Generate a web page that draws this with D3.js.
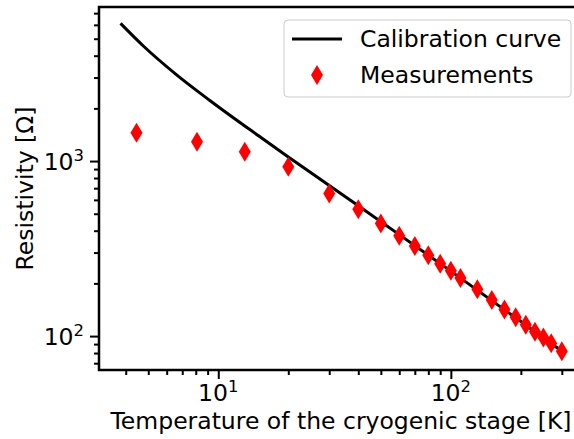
<!DOCTYPE html>
<html>
<head>
<meta charset="utf-8">
<script src="https://cdn.jsdelivr.net/npm/d3@7"></script>
<style>
  html, body { margin: 0; padding: 0; background: #fff; }
  svg { display: block; font-family: "DejaVu Sans", sans-serif; }
</style>
</head>
<body>
<svg id="chart"></svg>
<script>
// calibration curve
const curveT = [3.8, 4.8, 6.6, 9.2, 15, 20, 30, 40, 60, 100, 200, 300];
const curveR = [6120, 4500, 3120, 2220, 1385, 1055, 725, 555, 380, 235, 121, 82];

// measured points
const measT = [4.45, 8.1, 13, 20, 30, 40, 50, 60, 70, 80, 90, 100, 110, 130, 150, 170, 190, 210, 230, 250, 270, 300];
const measR = [1451, 1289, 1130, 928, 653, 530, 440, 374, 327, 290, 259, 236, 215, 185, 161, 142, 128, 116, 106, 98, 91, 82];

const xMajor = [10, 100];
const xMinor = [4, 5, 6, 7, 8, 9, 20, 30, 40, 50, 60, 70, 80, 90, 200, 300];
const yMajor = [100, 1000];
const yMinor = [70, 80, 90, 200, 300, 400, 500, 600, 700, 800, 900, 2000, 3000, 4000, 5000, 6000, 7000];

const width = 574, height = 439;
const margin = { left: 99, top: 7, right: 583, bottom: 370 };
const fs = 23.5;

const svg = d3.select("#chart")
    .attr("width", width)
    .attr("height", height)
    .attr("viewBox", [0, 0, width, height]);

const x = d3.scaleLog().domain([3.07, 370]).range([margin.left, margin.right]);
const y = d3.scaleLog().domain([64, 7590]).range([margin.bottom, margin.top]);

// calibration curve
const curve = curveT.map((t, i) => [t, curveR[i]]);
const line = d3.line()
    .x(d => x(d[0]))
    .y(d => y(d[1]))
    .curve(d3.curveMonotoneX);

svg.append("path")
    .datum(curve)
    .attr("fill", "none")
    .attr("stroke", "#000")
    .attr("stroke-width", 3)
    .attr("d", line);

// thin diamond marker
const diamond = (cx, cy) => `M${cx},${cy - 10}L${cx + 6},${cy}L${cx},${cy + 10}L${cx - 6},${cy}Z`;

svg.append("g")
  .selectAll("path")
  .data(measT.map((t, i) => [t, measR[i]]))
  .join("path")
    .attr("d", d => diamond(x(d[0]), y(d[1])))
    .attr("fill", "#ff0000");

// axes (ticks only, spines drawn separately)
const tickStyle = g => {
    g.select(".domain").remove();
    g.selectAll(".tick line").attr("stroke", "#000").attr("stroke-width", 2);
};

svg.append("g")
    .attr("transform", `translate(0,${margin.bottom})`)
    .call(d3.axisBottom(x).tickValues(xMajor).tickSize(9).tickFormat(() => ""))
    .call(tickStyle);
svg.append("g")
    .attr("transform", `translate(0,${margin.bottom})`)
    .call(d3.axisBottom(x).tickValues(xMinor).tickSize(5).tickFormat(() => ""))
    .call(tickStyle);
svg.append("g")
    .attr("transform", `translate(${margin.left},0)`)
    .call(d3.axisLeft(y).tickValues(yMajor).tickSize(9).tickFormat(() => ""))
    .call(tickStyle);
svg.append("g")
    .attr("transform", `translate(${margin.left},0)`)
    .call(d3.axisLeft(y).tickValues(yMinor).tickSize(5).tickFormat(() => ""))
    .call(tickStyle);

// power-of-ten labels
const powLabel = (sel, v) => {
    sel.append("tspan").text("10");
    sel.append("tspan")
        .attr("dy", -9)
        .attr("font-size", fs * 0.7)
        .text(Math.round(Math.log10(v)));
};

xMajor.forEach(v => {
    svg.append("text")
        .attr("x", x(v))
        .attr("y", 401)
        .attr("text-anchor", "middle")
        .attr("font-size", fs)
        .call(powLabel, v);
});

yMajor.forEach(v => {
    svg.append("text")
        .attr("x", 84)
        .attr("y", y(v) + 9)
        .attr("text-anchor", "end")
        .attr("font-size", fs)
        .call(powLabel, v);
});

// spines
svg.append("rect")
    .attr("x", margin.left)
    .attr("y", margin.top)
    .attr("width", margin.right - margin.left)
    .attr("height", margin.bottom - margin.top)
    .attr("fill", "none")
    .attr("stroke", "#000")
    .attr("stroke-width", 2.5);

// axis titles
svg.append("text")
    .attr("x", (margin.left + margin.right) / 2)
    .attr("y", 429)
    .attr("text-anchor", "middle")
    .attr("font-size", fs)
    .text("Temperature of the cryogenic stage [K]");

svg.append("text")
    .attr("transform", `translate(33,${(margin.top + margin.bottom) / 2}) rotate(-90)`)
    .attr("text-anchor", "middle")
    .attr("font-size", fs)
    .text("Resistivity [Ω]");

// legend
const legend = svg.append("g");
legend.append("rect")
    .attr("x", 284)
    .attr("y", 20)
    .attr("width", 287)
    .attr("height", 77)
    .attr("rx", 4)
    .attr("fill", "#fff")
    .attr("fill-opacity", 0.8)
    .attr("stroke", "#cccccc")
    .attr("stroke-width", 1);
legend.append("line")
    .attr("x1", 292).attr("x2", 342)
    .attr("y1", 39).attr("y2", 39)
    .attr("stroke", "#000")
    .attr("stroke-width", 3);
legend.append("path")
    .attr("d", diamond(317, 75))
    .attr("fill", "#ff0000");
legend.append("text")
    .attr("x", 360).attr("y", 47)
    .attr("font-size", fs)
    .text("Calibration curve");
legend.append("text")
    .attr("x", 360).attr("y", 83)
    .attr("font-size", fs)
    .text("Measurements");
</script>
</body>
</html>
